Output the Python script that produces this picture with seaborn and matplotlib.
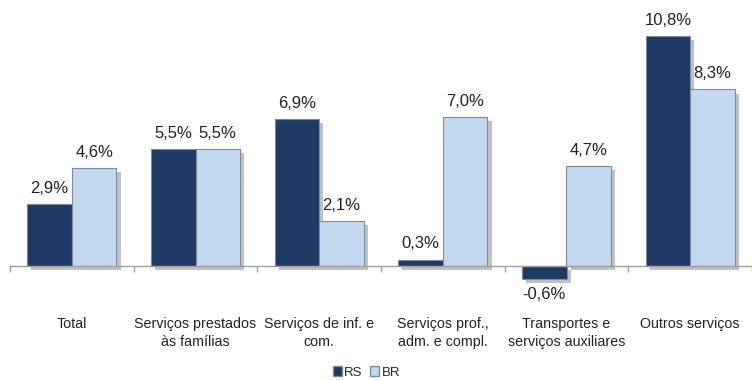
import matplotlib
matplotlib.use("Agg")
import matplotlib.pyplot as plt
import matplotlib.patheffects as pe
from matplotlib.patches import Patch
import seaborn as sns
import pandas as pd
import numpy as np

categories = ["Total", "Serviços prestados\nàs famílias", "Serviços de inf. e\ncom.",
              "Serviços prof.,\nadm. e compl.", "Transportes e\nserviços auxiliares",
              "Outros serviços"]
rs_values = [2.9, 5.5, 6.9, 0.3, -0.6, 10.8]
br_values = [4.6, 5.5, 2.1, 7.0, 4.7, 8.3]
series = ["RS", "BR"]
colors = ["#1e3a64", "#c4d8f0"]

df = pd.DataFrame({
    "cat": categories * 2,
    "serie": ["RS"] * len(categories) + ["BR"] * len(categories),
    "valor": rs_values + br_values,
})

sns.set_theme(style="white")
plt.rcParams["font.family"] = ["Liberation Sans", "DejaVu Sans"]

fig = plt.figure(figsize=(7.52, 3.80), dpi=100)
ax = fig.add_axes([10 / 752, 0.188, 742 / 752, 0.784])

sns.barplot(data=df, x="cat", y="valor", hue="serie", hue_order=series,
            palette=colors, saturation=1, width=0.72, ax=ax, legend=False,
            errorbar=None, edgecolor="#7d8a9c", linewidth=0.8)

for p in ax.patches:
    p.set_path_effects([pe.SimplePatchShadow(offset=(3, -3), shadow_rgbFace="#666666", alpha=0.4),
                        pe.Normal()])

for i, cont in enumerate(ax.containers):
    vals = [rs_values, br_values][i]
    for bar, v in zip(cont, vals):
        x = bar.get_x() + bar.get_width() / 2
        txt = f"{v:.1f}".replace(".", ",") + "%"
        if v >= 0:
            ax.annotate(txt, (x, v), xytext=(0, 6), textcoords="offset points",
                        ha="center", va="bottom", fontsize=12, color="#222222")
        else:
            ax.annotate(txt, (x, v), xytext=(0, -6), textcoords="offset points",
                        ha="center", va="top", fontsize=12, color="#222222")

ax.set_xlim(-0.5, 5.5)
ax.set_ylim(-2, 12)
ax.set_xlabel("")
ax.set_ylabel("")
ax.set_yticks([])
for s in ["top", "right", "left"]:
    ax.spines[s].set_visible(False)
ax.spines["bottom"].set_position(("data", 0))
ax.spines["bottom"].set_color("#a0a0a0")
ax.spines["bottom"].set_linewidth(1.0)
ax.set_xticks(np.arange(len(categories)))
ax.set_xticklabels(categories, fontsize=10.3, color="#222222", linespacing=1.3)
ax.set_xticks(np.arange(-0.5, len(categories), 1.0), minor=True)
ax.tick_params(axis="x", which="major", length=0, pad=37)
ax.tick_params(axis="x", which="minor", length=4, width=1, color="#a0a0a0",
               direction="out", bottom=True)

handles = [Patch(facecolor=colors[0], edgecolor="#7d8a9c"),
           Patch(facecolor=colors[1], edgecolor="#7d8a9c")]
fig.legend(handles, series, loc="center", bbox_to_anchor=(0.487, 7.5 / 380), ncol=2,
           frameon=False, fontsize=9.5, handlelength=0.7, handleheight=0.7,
           handletextpad=0.15, columnspacing=0.6, borderpad=0.1)

fig.savefig("out.png", dpi=100)
